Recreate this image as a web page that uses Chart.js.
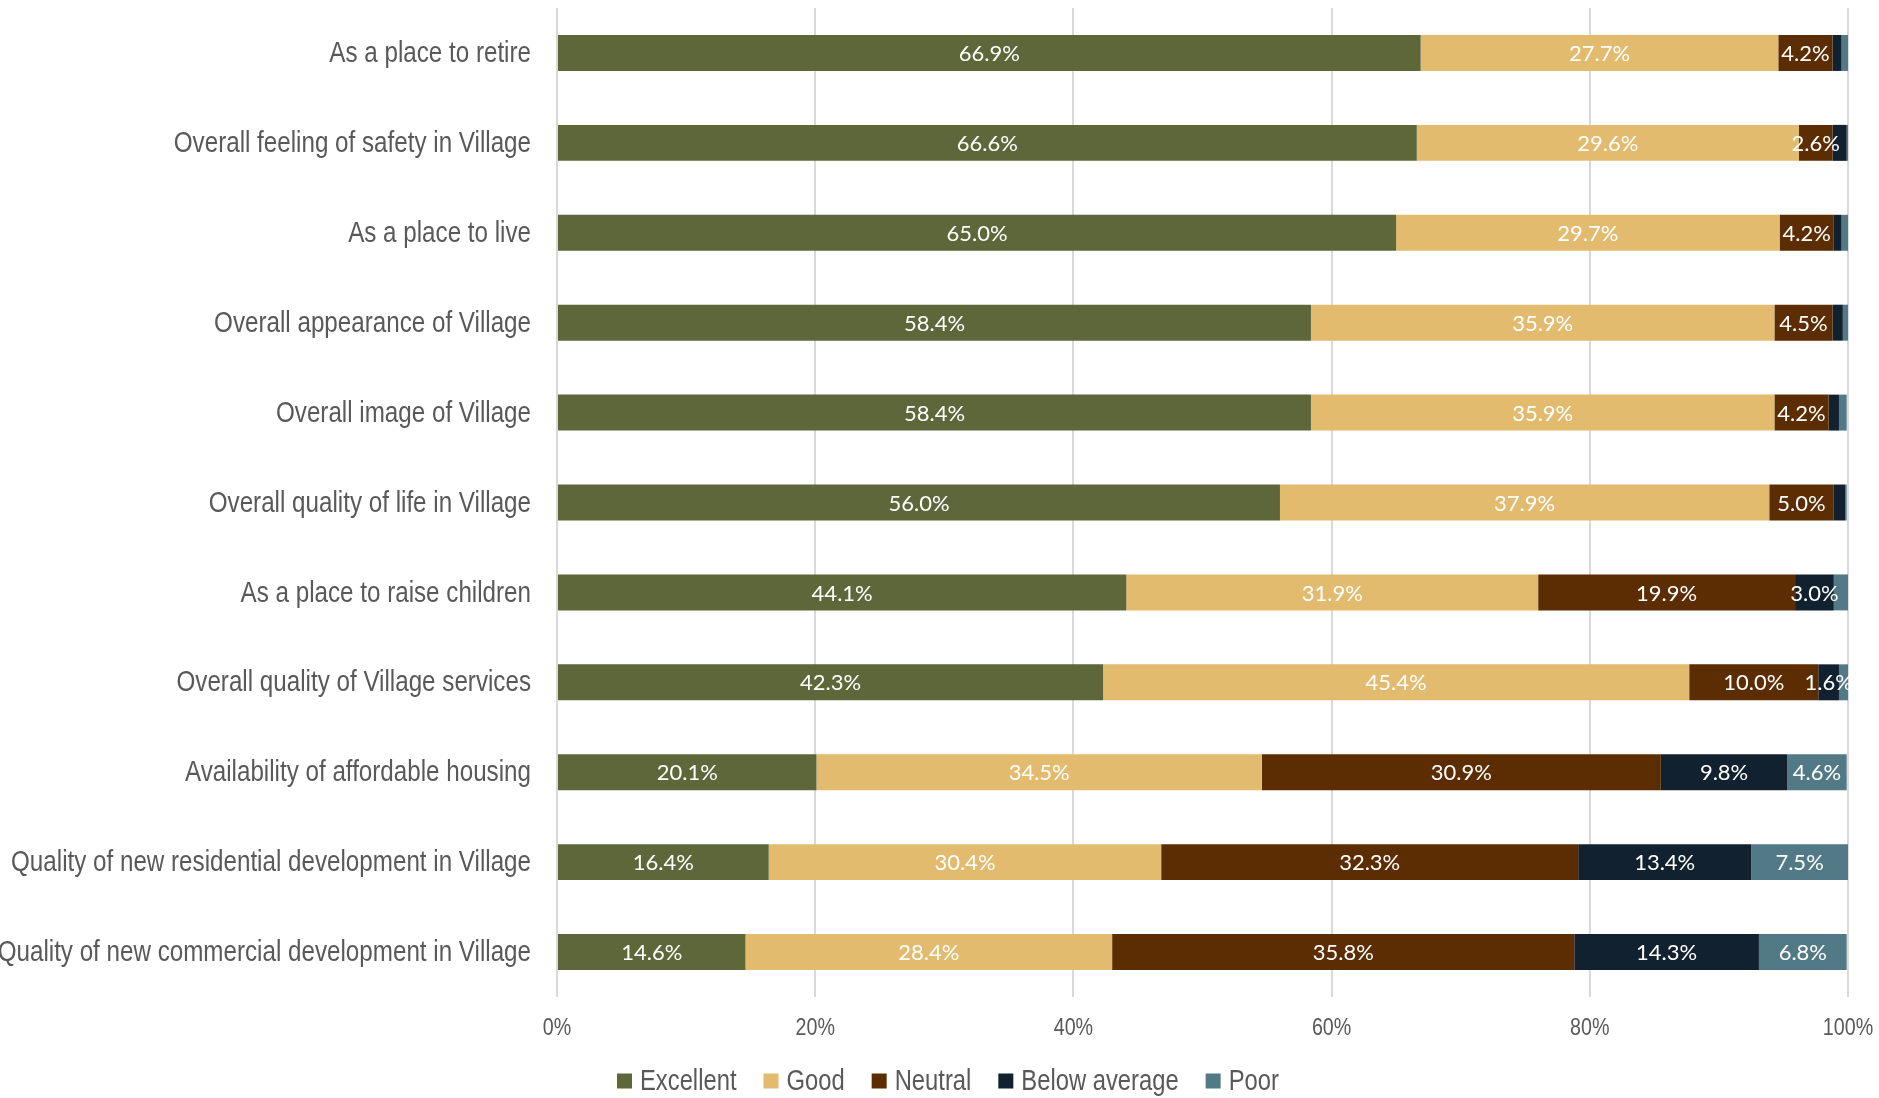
<!DOCTYPE html>
<html>
<head>
<meta charset="utf-8">
<script src="https://cdn.jsdelivr.net/npm/chart.js@4/dist/chart.umd.min.js"></script>
<style>
  html, body { margin: 0; padding: 0; background: #fff; }
  #wrap { width: 1879px; height: 1098px; position: relative; }
</style>
</head>
<body>
<div id="wrap"><canvas id="chart"></canvas></div>
<script>
// Catégories (de haut en bas)
const categories = [
    "As a place to retire",
    "Overall feeling of safety in Village",
    "As a place to live",
    "Overall appearance of Village",
    "Overall image of Village",
    "Overall quality of life in Village",
    "As a place to raise children",
    "Overall quality of Village services",
    "Availability of affordable housing",
    "Quality of new residential development in Village",
    "Quality of new commercial development in Village"
];

// Pourcentages par niveau de satisfaction
const excellent    = [66.9, 66.6, 65.0, 58.4, 58.4, 56.0, 44.1, 42.3, 20.1, 16.4, 14.6];
const good         = [27.7, 29.6, 29.7, 35.9, 35.9, 37.9, 31.9, 45.4, 34.5, 30.4, 28.4];
const neutral      = [4.2, 2.6, 4.2, 4.5, 4.2, 5.0, 19.9, 10.0, 30.9, 32.3, 35.8];
const belowAverage = [0.7, 1.1, 0.6, 0.8, 0.8, 0.9, 3.0, 1.6, 9.8, 13.4, 14.3];
const poor         = [0.5, 0.1, 0.5, 0.4, 0.6, 0.1, 1.1, 0.7, 4.6, 7.5, 6.8];

const seriesNames = ["Excellent", "Good", "Neutral", "Below average", "Poor"];
const seriesColors = ["#5e6739", "#e2bb6e", "#5c2c02", "#11212f", "#527a86"];
const xTicks = [0, 20, 40, 60, 80, 100];

const TEXT_GREY = '#595959';

// Police étroite simulée : Liberation Sans compressée horizontalement
function narrowText(ctx, text, x, y, size, align) {
    const sx = 0.82;
    ctx.save();
    ctx.font = size + "px 'Liberation Sans', Arial, sans-serif";
    ctx.fillStyle = TEXT_GREY;
    ctx.textBaseline = 'middle';
    ctx.textAlign = align;
    ctx.translate(x, y);
    ctx.scale(sx, 1);
    ctx.fillText(text, 0, 0);
    ctx.restore();
}

function narrowWidth(ctx, text, size) {
    ctx.save();
    ctx.font = size + "px 'Liberation Sans', Arial, sans-serif";
    const w = ctx.measureText(text).width * 0.82;
    ctx.restore();
    return w;
}

// Libellés des axes et légende
const axisText = {
    id: 'axisText',
    afterDraw(chart) {
        const ctx = chart.ctx;
        const area = chart.chartArea;
        const xs = chart.scales.x;
        const ys = chart.scales.y;

        categories.forEach((c, i) => {
            narrowText(ctx, c, area.left - 26, ys.getPixelForValue(i) + 1, 29.5, 'right');
        });

        xTicks.forEach(v => {
            narrowText(ctx, v + '%', xs.getPixelForValue(v), area.bottom + 31, 24, 'center');
        });

        // Légende
        const box = 15, gapBox = 8, gapItem = 27, size = 29;
        let x = 617;
        const y = 1081;
        seriesNames.forEach((n, i) => {
            ctx.fillStyle = seriesColors[i];
            ctx.fillRect(x, y - box / 2, box, box);
            x += box + gapBox;
            narrowText(ctx, n, x, y + 1, size, 'left');
            x += narrowWidth(ctx, n, size) + gapItem;
        });
    }
};

// Étiquettes de valeur au centre de chaque segment
const segmentLabels = {
    id: 'segmentLabels',
    afterDatasetsDraw(chart) {
        const ctx = chart.ctx;
        ctx.save();
        ctx.font = "22px Lato, 'Open Sans', sans-serif";
        ctx.fillStyle = '#ffffff';
        ctx.textAlign = 'center';
        ctx.textBaseline = 'middle';
        chart.data.datasets.forEach((ds, i) => {
            const meta = chart.getDatasetMeta(i);
            meta.data.forEach((bar, j) => {
                const v = ds.data[j];
                if (v < 1.5) return;
                const cx = (bar.x + bar.base) / 2;
                ctx.fillText(v.toFixed(1) + '%', cx, bar.y + 1);
            });
        });
        ctx.restore();
    }
};

const datasets = [excellent, good, neutral, belowAverage, poor].map((data, i) => ({
    label: seriesNames[i],
    data: data,
    backgroundColor: seriesColors[i],
    borderWidth: 0,
    barPercentage: 0.4,
    categoryPercentage: 1.0
}));

new Chart(document.getElementById('chart'), {
    type: 'bar',
    data: { labels: categories, datasets: datasets },
    plugins: [segmentLabels, axisText],
    options: {
        indexAxis: 'y',
        responsive: true,
        maintainAspectRatio: false,
        animation: false,
        layout: { padding: { top: 8, right: 31, left: 0, bottom: 0 } },
        plugins: {
            legend: { display: false },
            tooltip: { enabled: false }
        },
        scales: {
            x: {
                stacked: true,
                min: 0,
                max: 100,
                afterBuildTicks: (scale) => {
                    scale.ticks = xTicks.map(v => ({ value: v }));
                },
                afterFit: (scale) => { scale.height = 101; },
                grid: { color: '#d9d9d9', lineWidth: 2, drawTicks: false },
                border: { display: false },
                ticks: { display: false }
            },
            y: {
                stacked: true,
                afterFit: (scale) => { scale.width = 557; },
                grid: { display: false, drawTicks: false },
                border: { display: false },
                ticks: { display: false }
            }
        }
    }
});
</script>
</body>
</html>
